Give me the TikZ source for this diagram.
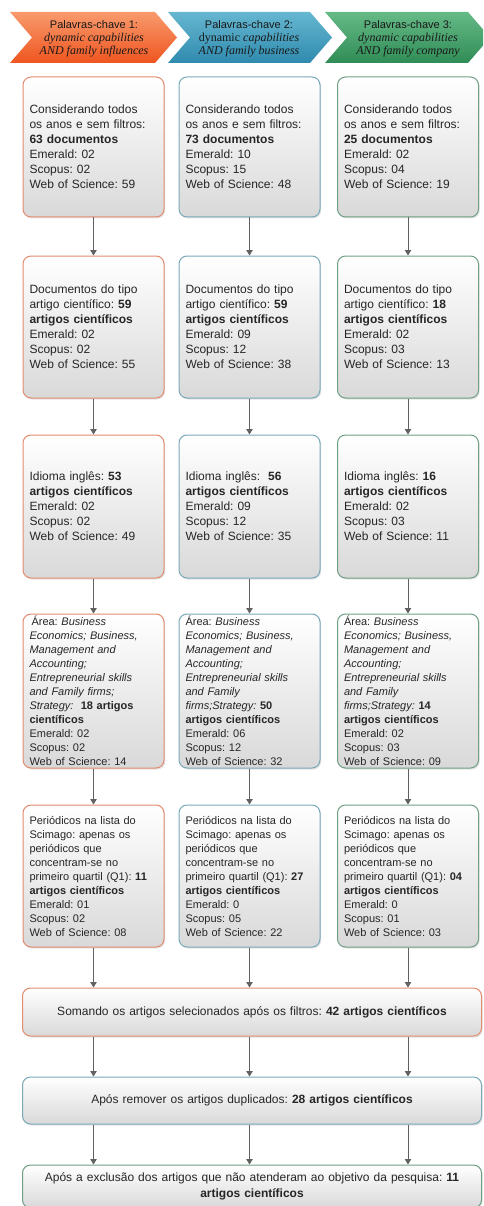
\documentclass[tikz,border=0pt]{standalone}
\usepackage{fontspec}
\setmainfont{Liberation Sans}
\newfontfamily\timesf{Liberation Serif}
\usetikzlibrary{arrows.meta,shadows}
\frenchspacing
\definecolor{orB}{HTML}{E38B6F}
\definecolor{blB}{HTML}{79A9B9}
\definecolor{grB}{HTML}{6F9F84}
\definecolor{orT}{HTML}{F89A6C}
\definecolor{orD}{HTML}{EF5520}
\definecolor{blT}{HTML}{66B7D0}
\definecolor{blD}{HTML}{2F8AAE}
\definecolor{grT}{HTML}{66BA86}
\definecolor{grD}{HTML}{2F8C56}
\newcommand{\fA}{\fontsize{12}{15}\selectfont}
\newcommand{\fB}{\fontsize{11}{14}\selectfont}
\newcommand{\fH}{\fontsize{11}{13}\selectfont}
\newcommand{\ti}{\timesf\itshape\fontsize{12}{13}\selectfont}
\newcommand{\tu}{\timesf\fontsize{12}{13}\selectfont}
\begin{document}
\begin{tikzpicture}[x=1pt,y=-1pt,
  box/.style={rounded corners=8pt, line width=1pt, top color=white, bottom color=black!15,
    drop shadow={shadow xshift=1.2pt,shadow yshift=-1.5pt,opacity=0.22},
    align=left, text width=128pt, inner xsep=6.5pt, inner ysep=0pt, text=black!85},
  rowA/.style={box, minimum height=140pt, font=\fA},
  rowB/.style={box, minimum height=154pt, font=\fB},
  wide/.style={box, text width=446pt, align=center, font=\fontsize{12}{15.5}\selectfont},
  arr/.style={draw=black!62, line width=0.9pt, -{Triangle[width=6.5pt,length=5.5pt]}},
  head/.style={align=center, text=black!90, font=\fH}
]
\useasboundingbox (0,0) rectangle (483,1206);
\clip (0,0) rectangle (483,1206);
\fill[white] (0,0) rectangle (483,1206);

% header chevrons
\path[top color=orT, bottom color=orD] (10,12) -- (155,12) -- (177,37.5) -- (155,63) -- (10,63) -- (32,37.5) -- cycle;
\path[top color=blT, bottom color=blD] (168,12) -- (310,12) -- (332,37.5) -- (310,63) -- (168,63) -- (190,37.5) -- cycle;
\path[top color=grT, bottom color=grD] (325,12) -- (468,12) -- (490,37.5) -- (468,63) -- (325,63) -- (347,37.5) -- cycle;
\node[head] (h1) at (94,39) {Palavras-chave 1:\\ {\ti dynamic capabilities}\\ {\ti AND family influences}};
\node[head] (h2) at (249,39) {Palavras-chave 2:\\ {\tu dynamic} {\ti capabilities}\\ {\ti AND family business}};
\node[head] (h3) at (408,39) {Palavras-chave 3:\\ {\ti dynamic capabilities}\\ {\ti AND family company}};

% row 1
\node[rowA, draw=orB] (r1c1) at (93.5,147) {Considerando todos\\ os anos e sem filtros:\\ \textbf{63 documentos}\\ Emerald: 02\\ Scopus: 02\\ Web of Science: 59};
\node[rowA, draw=blB] (r1c2) at (249.5,147) {Considerando todos\\ os anos e sem filtros:\\ \textbf{73 documentos}\\ Emerald: 10\\ Scopus: 15\\ Web of Science: 48};
\node[rowA, draw=grB] (r1c3) at (408,147) {Considerando todos\\ os anos e sem filtros:\\ \textbf{25 documentos}\\ Emerald: 02\\ Scopus: 04\\ Web of Science: 19};

% row 2
\node[rowA, draw=orB, minimum height=142pt] (r2c1) at (93.5,327) {Documentos do tipo\\ artigo científico: \textbf{59}\\ \textbf{artigos científicos}\\ Emerald: 02\\ Scopus: 02\\ Web of Science: 55};
\node[rowA, draw=blB, minimum height=142pt] (r2c2) at (249.5,327) {Documentos do tipo\\ artigo científico: \textbf{59}\\ \textbf{artigos científicos}\\ Emerald: 09\\ Scopus: 12\\ Web of Science: 38};
\node[rowA, draw=grB, minimum height=142pt] (r2c3) at (408,327) {Documentos do tipo\\ artigo científico: \textbf{18}\\ \textbf{artigos científicos}\\ Emerald: 02\\ Scopus: 03\\ Web of Science: 13};

% row 3
\node[rowA, draw=orB, minimum height=143pt] (r3c1) at (93.5,506.5) {Idioma inglês: \textbf{53}\\ \textbf{artigos científicos}\\ Emerald: 02\\ Scopus: 02\\ Web of Science: 49};
\node[rowA, draw=blB, minimum height=143pt] (r3c2) at (249.5,506.5) {Idioma inglês:\ \ \textbf{56}\\ \textbf{artigos científicos}\\ Emerald: 09\\ Scopus: 12\\ Web of Science: 35};
\node[rowA, draw=grB, minimum height=143pt] (r3c3) at (408,506.5) {Idioma inglês: \textbf{16}\\ \textbf{artigos científicos}\\ Emerald: 02\\ Scopus: 03\\ Web of Science: 11};

% row 4
\node[rowB, draw=orB] (r4c1) at (93.5,691) {\hspace{2pt}Área: \textit{Business}\\ \textit{Economics; Business,}\\ \textit{Management and}\\ \textit{Accounting;}\\ \textit{Entrepreneurial skills}\\ \textit{and Family firms;}\\ \textit{Strategy:}\ \ \textbf{18 artigos}\\ \textbf{científicos}\\ Emerald: 02\\ Scopus: 02\\ Web of Science: 14};
\node[rowB, draw=blB] (r4c2) at (249.5,691) {Área: \textit{Business}\\ \textit{Economics; Business,}\\ \textit{Management and}\\ \textit{Accounting;}\\ \textit{Entrepreneurial skills}\\ \textit{and Family}\\ \textit{firms;Strategy:} \textbf{50}\\ \textbf{artigos científicos}\\ Emerald: 06\\ Scopus: 12\\ Web of Science: 32};
\node[rowB, draw=grB] (r4c3) at (408,691) {Área: \textit{Business}\\ \textit{Economics; Business,}\\ \textit{Management and}\\ \textit{Accounting;}\\ \textit{Entrepreneurial skills}\\ \textit{and Family}\\ \textit{firms;Strategy:} \textbf{14}\\ \textbf{artigos científicos}\\ Emerald: 02\\ Scopus: 03\\ Web of Science: 09};

% row 5
\node[rowB, draw=orB, minimum height=142pt] (r5c1) at (93.5,876) {Periódicos na lista do\\ Scimago: apenas os\\ periódicos que\\ concentram-se no\\ primeiro quartil (Q1): \textbf{11}\\ \textbf{artigos científicos}\\ Emerald: 01\\ Scopus: 02\\ Web of Science: 08};
\node[rowB, draw=blB, minimum height=142pt] (r5c2) at (249.5,876) {Periódicos na lista do\\ Scimago: apenas os\\ periódicos que\\ concentram-se no\\ primeiro quartil (Q1): \textbf{27}\\ \textbf{artigos científicos}\\ Emerald: 0\\ Scopus: 05\\ Web of Science: 22};
\node[rowB, draw=grB, minimum height=142pt] (r5c3) at (408,876) {Periódicos na lista do\\ Scimago: apenas os\\ periódicos que\\ concentram-se no\\ primeiro quartil (Q1): \textbf{04}\\ \textbf{artigos científicos}\\ Emerald: 0\\ Scopus: 01\\ Web of Science: 03};

% bottom boxes
\node[wide, draw=orB, minimum height=48pt] (A) at (252,1012) {Somando os artigos selecionados após os filtros: \textbf{42 artigos científicos}};
\node[wide, draw=blB, minimum height=47pt] (B) at (252,1100.5) {Após remover os artigos duplicados: \textbf{28 artigos científicos}};
\node[wide, draw=grB, minimum height=43pt] (C) at (252,1186.5) {Após a exclusão dos artigos que não atenderam ao objetivo da pesquisa: \textbf{11}\\ \textbf{artigos científicos}};

% connectors
\foreach \c in {1,2,3}{
  \draw[arr] (r1c\c) -- (r2c\c);
  \draw[arr] (r2c\c) -- (r3c\c);
  \draw[arr] (r3c\c) -- (r4c\c);
  \draw[arr] (r4c\c) -- (r5c\c);
  \draw[arr] (r5c\c.south) -- (r5c\c.south |- A.north);
  \draw[arr] (r5c\c.south |- A.south) -- (r5c\c.south |- B.north);
  \draw[arr] (r5c\c.south |- B.south) -- (r5c\c.south |- C.north);
}
\end{tikzpicture}
\end{document}
